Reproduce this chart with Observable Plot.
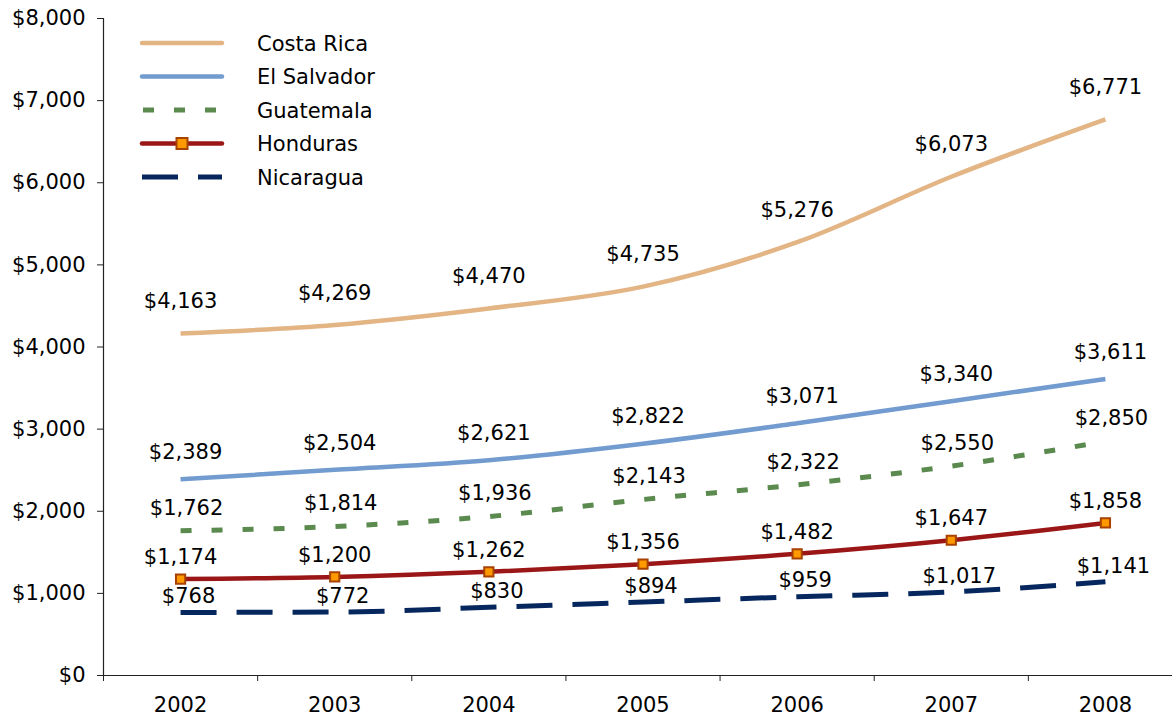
<!DOCTYPE html>
<html>
<head>
<meta charset="utf-8">
<script src="https://cdn.jsdelivr.net/npm/d3@7"></script>
<script src="https://cdn.jsdelivr.net/npm/@observablehq/plot@0.6"></script>
<style>
  html, body { margin: 0; padding: 0; background: #fff; }
  #wrap { position: relative; width: 1172px; height: 719px; font-family: "DejaVu Sans", Verdana, sans-serif; }
  #legend { position: absolute; left: 0; top: 0; }
</style>
</head>
<body>
<div id="wrap"></div>
<script>
const years = [2002, 2003, 2004, 2005, 2006, 2007, 2008];
const costaRica  = [4163, 4269, 4470, 4735, 5276, 6073, 6771];
const elSalvador = [2389, 2504, 2621, 2822, 3071, 3340, 3611];
const guatemala  = [1762, 1814, 1936, 2143, 2322, 2550, 2850];
const honduras   = [1174, 1200, 1262, 1356, 1482, 1647, 1858];
const nicaragua  = [768, 772, 830, 894, 959, 1017, 1141];
const seriesNames = ["Costa Rica", "El Salvador", "Guatemala", "Honduras", "Nicaragua"];
const seriesValues = [costaRica, elSalvador, guatemala, honduras, nicaragua];
const yTicks = [0, 1000, 2000, 3000, 4000, 5000, 6000, 7000, 8000];

const styles = {
  "Costa Rica":  {stroke: "#e3b585", width: 4.5, dash: null, dx: 0, dy: -32},
  "El Salvador": {stroke: "#729bcf", width: 4.5, dash: null, dx: 5, dy: -27},
  "Guatemala":   {stroke: "#5b8a4f", width: 5, dash: "11 20", dx: 6, dy: -23},
  "Honduras":    {stroke: "#9b1717", width: 4.5, dash: null, dx: 0, dy: -22},
  "Nicaragua":   {stroke: "#06275e", width: 5, dash: "36 20", dx: 8, dy: -16}
};

const table = seriesNames.map((name, i) =>
  years.map((year, j) => ({name, year, value: seriesValues[i][j]}))
);

const fmt = v => "$" + d3.format(",")(v);
const bounds = [years[0] - 0.5, ...years.map(y => y + 0.5)];

const marks = [];
// axes
marks.push(Plot.ruleY([0], {stroke: "#222", strokeWidth: 1.2}));
marks.push(Plot.ruleX([bounds[0]], {stroke: "#222", strokeWidth: 1.2}));
marks.push(Plot.axisY({ticks: yTicks, tickSize: 6, tickPadding: 12, tickFormat: fmt, fontSize: 21, stroke: "#222", color: "#000", label: null}));
marks.push(Plot.axisX({ticks: bounds, tickSize: 6, tickFormat: () => "", stroke: "#222", label: null}));
marks.push(Plot.axisX({ticks: years, tickSize: 0, tickPadding: 22, tickFormat: d => String(d), fontSize: 21, color: "#000", label: null}));

table.forEach(rows => {
  const s = styles[rows[0].name];
  marks.push(Plot.line(rows, {
    x: "year", y: "value", stroke: s.stroke, strokeWidth: s.width,
    strokeDasharray: s.dash, curve: "monotone-x", strokeLinecap: "butt"
  }));
  if (rows[0].name === "Honduras") {
    marks.push(Plot.dot(rows, {x: "year", y: "value", symbol: "square", r: 5.2, fill: "#ff9900", stroke: "#a84200", strokeWidth: 2}));
  }
  marks.push(Plot.text(rows, {
    x: "year", y: "value", text: d => fmt(d.value), dx: s.dx, dy: s.dy,
    fontSize: 21, fill: "#000"
  }));
});

const chart = Plot.plot({
  width: 1172,
  height: 719,
  marginLeft: 103,
  marginRight: 0,
  marginTop: 18,
  marginBottom: 44,
  style: {fontFamily: "'DejaVu Sans', Verdana, sans-serif", background: "#fff", overflow: "hidden"},
  x: {type: "linear", domain: [bounds[0], bounds[bounds.length - 1]], range: [103, 1182], axis: null, label: null},
  y: {domain: [0, 8000], axis: null, label: null},
  marks
});
document.getElementById("wrap").appendChild(chart);

// legend overlay
const leg = d3.select("#wrap").append("svg")
  .attr("id", "legend").attr("width", 420).attr("height", 200);
const rowY = [43, 76.5, 110, 143.5, 177];
seriesNames.forEach((name, i) => {
  const s = styles[name];
  const g = leg.append("g");
  g.append("line")
    .attr("x1", 142).attr("x2", 222).attr("y1", rowY[i]).attr("y2", rowY[i])
    .attr("stroke", s.stroke).attr("stroke-width", s.width)
    .attr("stroke-dasharray", s.dash).attr("stroke-linecap", s.dash ? "butt" : "round")
    .attr("stroke-dashoffset", name === "Guatemala" ? -1 : 0);
  if (name === "Honduras") {
    g.append("rect").attr("x", 176.5).attr("y", rowY[i] - 5.5).attr("width", 11).attr("height", 11)
      .attr("fill", "#ff9900").attr("stroke", "#a84200").attr("stroke-width", 2);
  }
  g.append("text").attr("x", 257).attr("y", rowY[i]).attr("dy", "0.36em")
    .attr("font-size", 21).attr("font-family", "'DejaVu Sans', Verdana, sans-serif")
    .attr("fill", "#000").text(name);
});
</script>
</body>
</html>
